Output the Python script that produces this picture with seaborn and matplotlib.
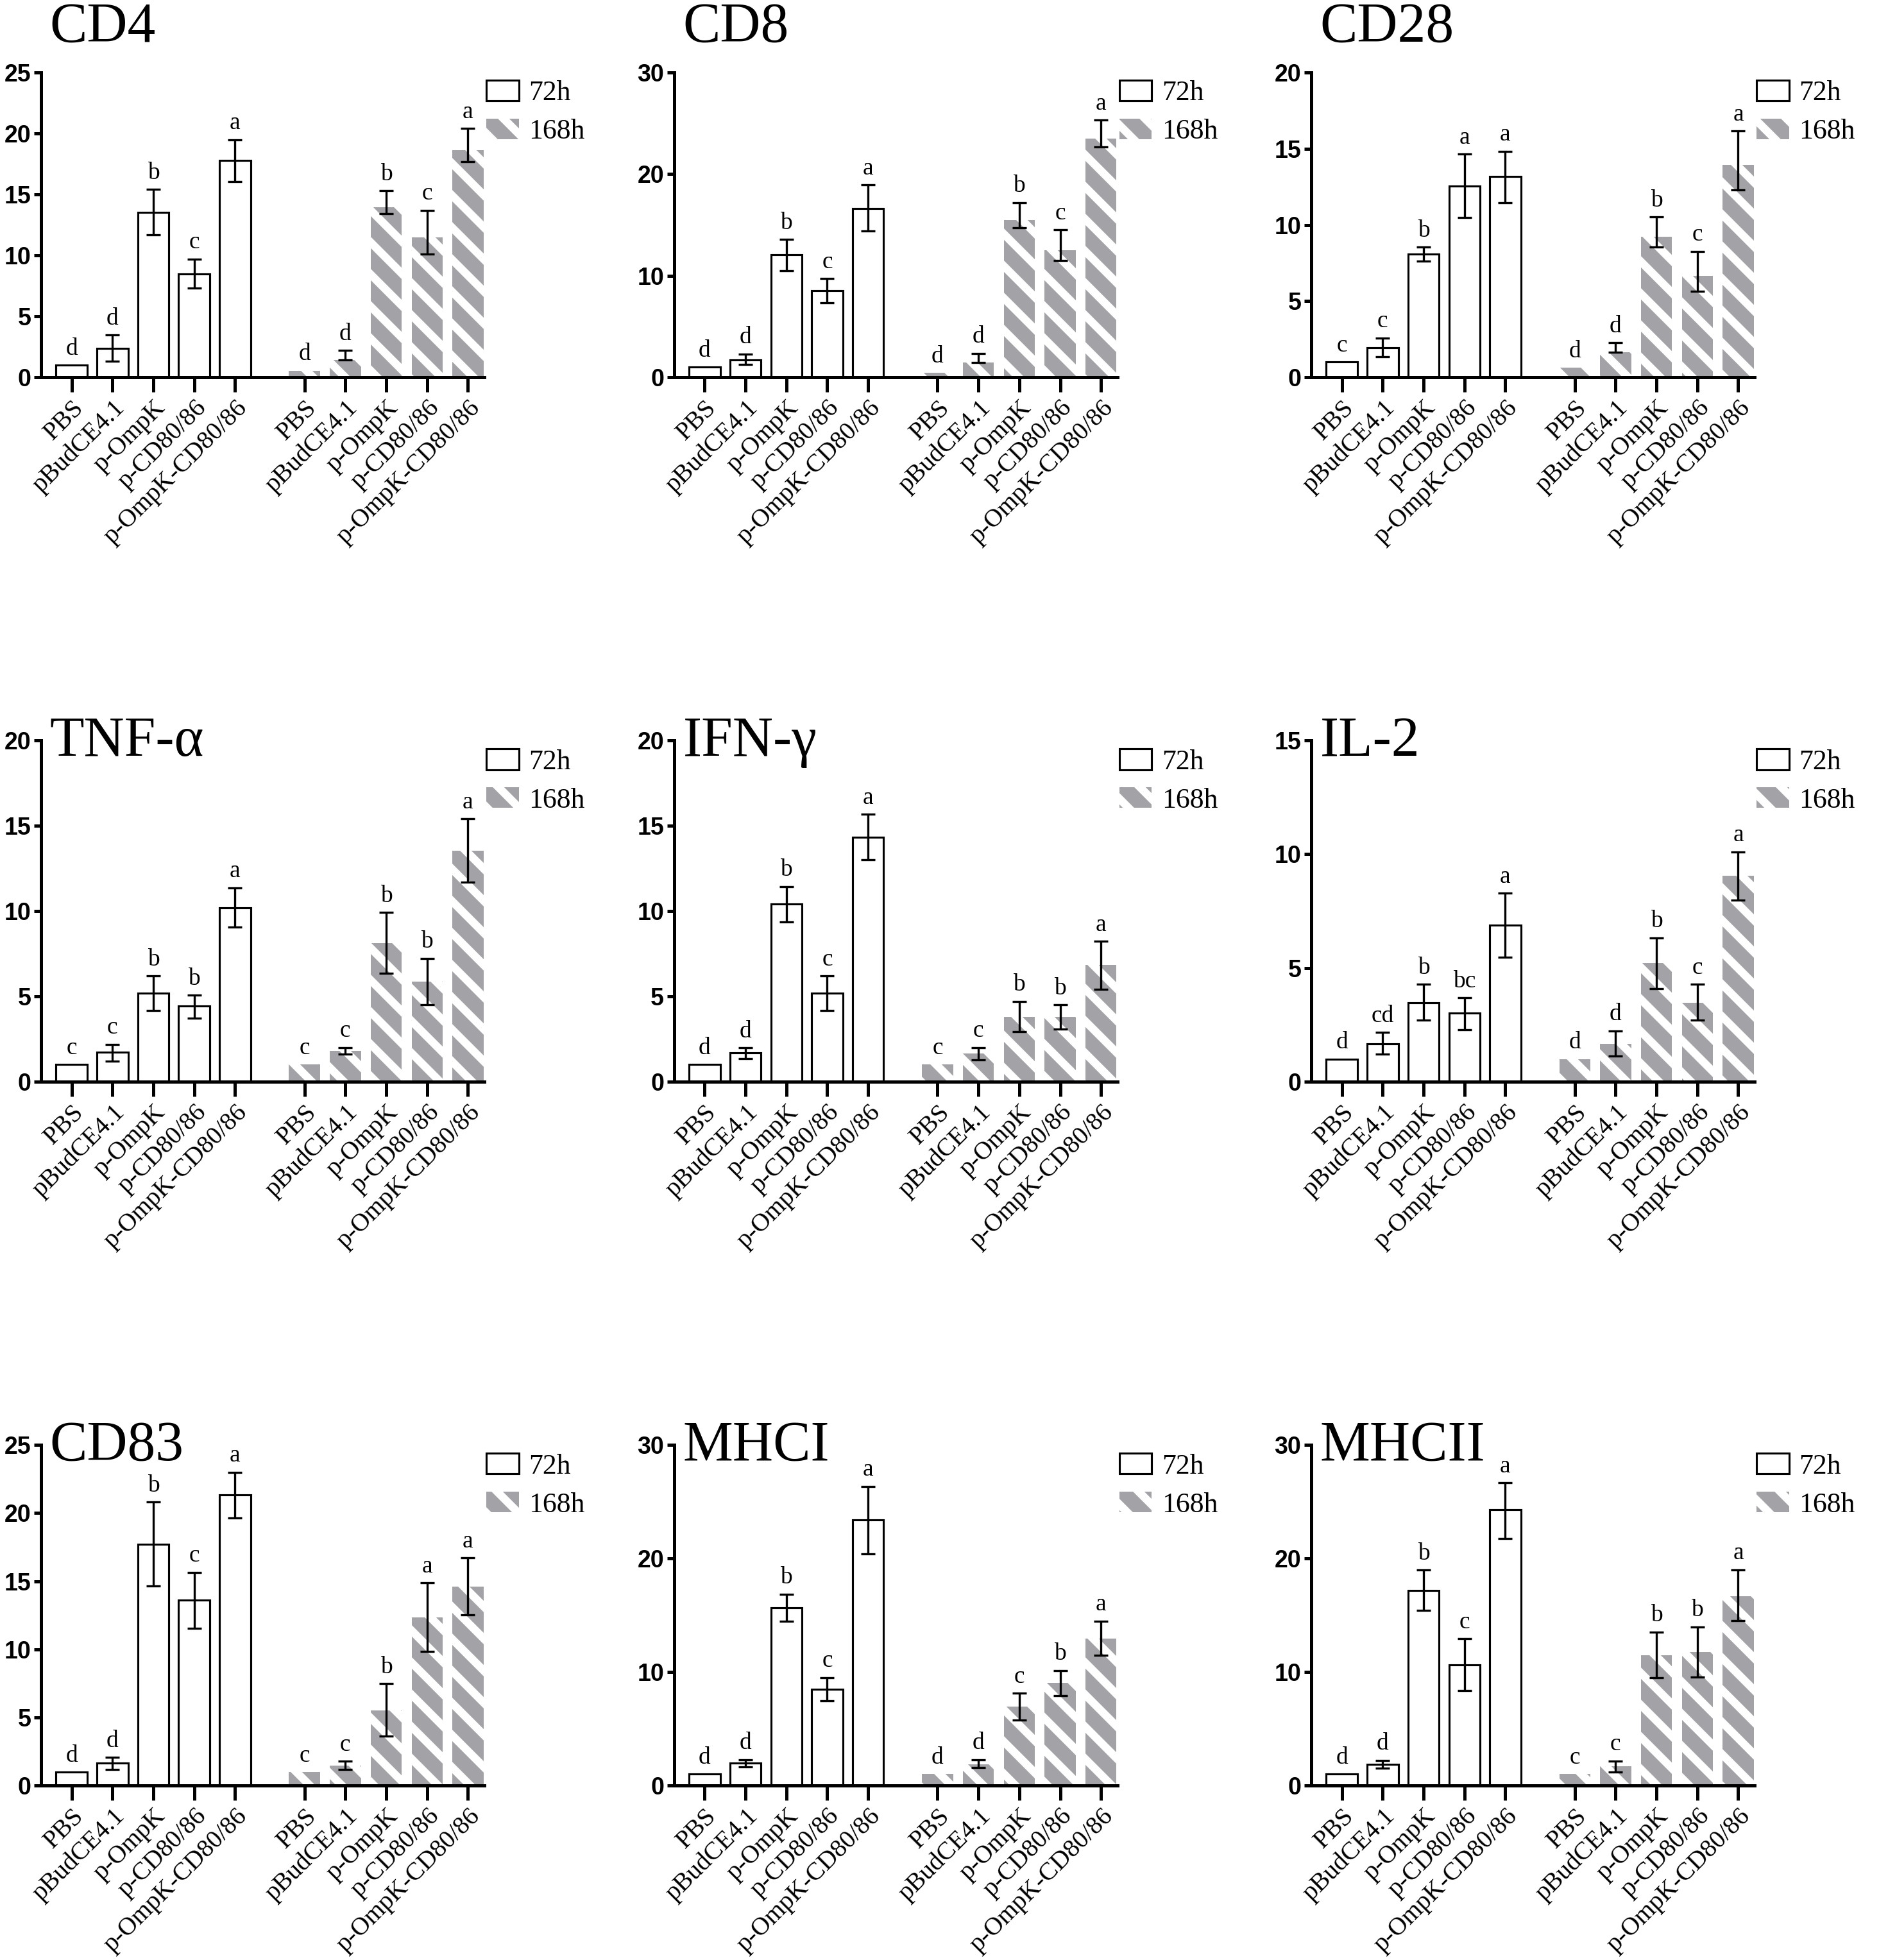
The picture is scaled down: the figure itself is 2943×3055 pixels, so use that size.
import numpy as np
import matplotlib
matplotlib.use('Agg')
import matplotlib.pyplot as plt
from matplotlib.patches import Patch
import seaborn as sns

# ---- data ----
groups = ['PBS', 'pBudCE4.1', 'p-OmpK', 'p-CD80/86', 'p-OmpK-CD80/86']

cd4_72 = [1.0, 2.37, 13.55, 8.5, 17.8]
cd4_72_lo = [None, 1.3, 11.7, 7.3, 16.05]
cd4_72_hi = [None, 3.47, 15.4, 9.7, 19.5]
cd4_168 = [0.55, 1.45, 13.97, 11.5, 18.65]
cd4_168_lo = [None, 1.45, 13.4, 10.1, 17.7]
cd4_168_hi = [None, 2.2, 15.3, 13.7, 20.4]
cd4_sig_72 = ['d', 'd', 'b', 'c', 'a']
cd4_sig_168 = ['d', 'd', 'b', 'c', 'a']

cd8_72 = [1.0, 1.74, 12.04, 8.5, 16.6]
cd8_72_lo = [None, 1.27, 10.5, 7.34, 14.4]
cd8_72_hi = [None, 2.3, 13.56, 9.73, 18.95]
cd8_168 = [0.45, 1.44, 15.5, 12.5, 23.5]
cd8_168_lo = [None, 1.44, 14.75, 11.5, 22.7]
cd8_168_hi = [None, 2.36, 17.2, 14.5, 25.3]
cd8_sig_72 = ['d', 'd', 'b', 'c', 'a']
cd8_sig_168 = ['d', 'd', 'b', 'c', 'a']

cd28_72 = [1.0, 1.95, 8.07, 12.53, 13.18]
cd28_72_lo = [None, 1.36, 7.64, 10.47, 11.46]
cd28_72_hi = [None, 2.58, 8.54, 14.66, 14.84]
cd28_168 = [0.62, 1.65, 9.22, 6.66, 13.96]
cd28_168_lo = [None, 1.65, 8.55, 5.66, 12.31]
cd28_168_hi = [None, 2.28, 10.52, 8.27, 16.17]
cd28_sig_72 = ['c', 'c', 'b', 'a', 'a']
cd28_sig_168 = ['d', 'd', 'b', 'c', 'a']

tnf_72 = [1.0, 1.73, 5.21, 4.43, 10.2]
tnf_72_lo = [None, 1.22, 4.17, 3.74, 9.06]
tnf_72_hi = [None, 2.2, 6.19, 5.08, 11.37]
tnf_168 = [1.0, 1.8, 8.13, 5.86, 13.53]
tnf_168_lo = [None, 1.61, 6.36, 4.53, 11.68]
tnf_168_hi = [None, 2.01, 9.93, 7.24, 15.42]
tnf_sig_72 = ['c', 'c', 'b', 'b', 'a']
tnf_sig_168 = ['c', 'c', 'b', 'b', 'a']

ifn_72 = [1.0, 1.68, 10.43, 5.21, 14.32]
ifn_72_lo = [None, 1.34, 9.38, 4.17, 13.02]
ifn_72_hi = [None, 1.99, 11.44, 6.19, 15.68]
ifn_168 = [1.0, 1.65, 3.81, 3.81, 6.83]
ifn_168_lo = [None, 1.29, 2.95, 3.09, 5.42]
ifn_168_hi = [None, 2.01, 4.72, 4.5, 8.24]
ifn_sig_72 = ['d', 'd', 'b', 'c', 'a']
ifn_sig_168 = ['c', 'c', 'b', 'b', 'a']

il2_72 = [1.0, 1.67, 3.47, 3.02, 6.87]
il2_72_lo = [None, 1.21, 2.72, 2.3, 5.47]
il2_72_hi = [None, 2.16, 4.28, 3.69, 8.28]
il2_168 = [1.0, 1.67, 5.21, 3.48, 9.06]
il2_168_lo = [None, 1.13, 4.1, 2.7, 7.98]
il2_168_hi = [None, 2.24, 6.33, 4.28, 10.11]
il2_sig_72 = ['d', 'cd', 'b', 'bc', 'a']
il2_sig_168 = ['d', 'd', 'b', 'c', 'a']

cd83_72 = [1.0, 1.65, 17.72, 13.61, 21.33]
cd83_72_lo = [None, 1.19, 14.67, 11.56, 19.63]
cd83_72_hi = [None, 2.07, 20.81, 15.65, 23.0]
cd83_168 = [1.0, 1.48, 5.5, 12.35, 14.61]
cd83_168_lo = [None, 1.19, 3.65, 9.85, 12.54]
cd83_168_hi = [None, 1.8, 7.48, 14.89, 16.7]
cd83_sig_72 = ['d', 'd', 'b', 'c', 'a']
cd83_sig_168 = ['c', 'c', 'b', 'a', 'a']

mhc1_72 = [1.0, 1.96, 15.63, 8.46, 23.38]
mhc1_72_lo = [None, 1.63, 14.48, 7.46, 20.42]
mhc1_72_hi = [None, 2.29, 16.86, 9.51, 26.35]
mhc1_168 = [1.0, 1.89, 6.97, 9.02, 12.92]
mhc1_168_lo = [None, 1.6, 5.79, 7.91, 11.47]
mhc1_168_hi = [None, 2.29, 8.13, 10.13, 14.48]
mhc1_sig_72 = ['d', 'd', 'b', 'c', 'a']
mhc1_sig_168 = ['d', 'd', 'c', 'b', 'a']

mhc2_72 = [1.0, 1.85, 17.19, 10.65, 24.28]
mhc2_72_lo = [None, 1.51, 15.41, 8.35, 21.76]
mhc2_72_hi = [None, 2.23, 18.98, 12.92, 26.68]
mhc2_168 = [1.0, 1.71, 11.47, 11.76, 16.7]
mhc2_168_lo = [None, 1.22, 9.51, 9.58, 14.54]
mhc2_168_hi = [None, 2.18, 13.52, 13.99, 19.0]
mhc2_sig_72 = ['d', 'd', 'b', 'c', 'a']
mhc2_sig_168 = ['c', 'c', 'b', 'b', 'a']

titles = ['CD4', 'CD8', 'CD28', 'TNF-α', 'IFN-γ', 'IL-2', 'CD83', 'MHCI', 'MHCII']
y_max = [25, 30, 20, 20, 20, 15, 25, 30, 30]
y_step = [5, 10, 5, 5, 5, 5, 5, 10, 10]

panels = [
    (cd4_72, cd4_72_lo, cd4_72_hi, cd4_sig_72, cd4_168, cd4_168_lo, cd4_168_hi, cd4_sig_168),
    (cd8_72, cd8_72_lo, cd8_72_hi, cd8_sig_72, cd8_168, cd8_168_lo, cd8_168_hi, cd8_sig_168),
    (cd28_72, cd28_72_lo, cd28_72_hi, cd28_sig_72, cd28_168, cd28_168_lo, cd28_168_hi, cd28_sig_168),
    (tnf_72, tnf_72_lo, tnf_72_hi, tnf_sig_72, tnf_168, tnf_168_lo, tnf_168_hi, tnf_sig_168),
    (ifn_72, ifn_72_lo, ifn_72_hi, ifn_sig_72, ifn_168, ifn_168_lo, ifn_168_hi, ifn_sig_168),
    (il2_72, il2_72_lo, il2_72_hi, il2_sig_72, il2_168, il2_168_lo, il2_168_hi, il2_sig_168),
    (cd83_72, cd83_72_lo, cd83_72_hi, cd83_sig_72, cd83_168, cd83_168_lo, cd83_168_hi, cd83_sig_168),
    (mhc1_72, mhc1_72_lo, mhc1_72_hi, mhc1_sig_72, mhc1_168, mhc1_168_lo, mhc1_168_hi, mhc1_sig_168),
    (mhc2_72, mhc2_72_lo, mhc2_72_hi, mhc2_sig_72, mhc2_168, mhc2_168_lo, mhc2_168_hi, mhc2_sig_168),
]

# ---- style ----
sns.set_style('ticks')
plt.rcParams['font.family'] = ['Liberation Serif', 'DejaVu Serif']
plt.rcParams['hatch.linewidth'] = 6.0
plt.rcParams['axes.linewidth'] = 2.4
for key in ['text.color', 'axes.labelcolor', 'xtick.color', 'ytick.color', 'axes.edgecolor']:
    plt.rcParams[key] = 'black'

GRAY = '#a2a2a7'
HATCH = '\\'
SANS = ['Liberation Sans Narrow', 'Liberation Sans', 'DejaVu Sans']
pos_72 = np.arange(5)
pos_168 = np.arange(5) + 5.7

DPI = 150
fig = plt.figure(figsize=(2943 / DPI, 3055 / DPI), dpi=DPI)

lefts = [0.0217, 0.357, 0.6945]
width = 0.2348
rows = [(0.8075, 0.1555), (0.4481, 0.1741), (0.089, 0.1738)]
title_y = [1.103, 0.955, 0.955]


def draw_errs(ax, pos, mean, lo, hi, letters):
    keep = [i for i in range(len(mean)) if lo[i] is not None]
    x = pos[keep]
    m = np.array(mean)[keep]
    down = np.clip(m - np.array([lo[i] for i in keep]), 0, None)
    up = np.clip(np.array([hi[i] for i in keep]) - m, 0, None)
    ax.errorbar(x, m, yerr=[down, up], fmt='none', ecolor='black', elinewidth=1.6,
                capsize=5.5, capthick=1.6, clip_on=False, zorder=4)
    for i, letter in enumerate(letters):
        top = hi[i] if hi[i] is not None else mean[i]
        ax.annotate(letter, (pos[i], top), xytext=(0, 4), textcoords='offset points',
                    ha='center', va='bottom', fontsize=18, annotation_clip=False)


for k, (name, panel) in enumerate(zip(titles, panels)):
    m72, lo72, hi72, s72, m168, lo168, hi168, s168 = panel
    r, c = divmod(k, 3)
    bottom, height = rows[r]
    ax = fig.add_axes([lefts[c], bottom, width, height])

    sns.barplot(x=pos_72, y=m72, native_scale=True, orient='x', width=0.76,
                color='white', edgecolor='black', linewidth=1.5, saturation=1,
                errorbar=None, ax=ax)
    sns.barplot(x=pos_168, y=m168, native_scale=True, orient='x', width=0.76,
                color=GRAY, edgecolor='white', linewidth=0, hatch=HATCH,
                saturation=1, errorbar=None, ax=ax)

    draw_errs(ax, pos_72, m72, lo72, hi72, s72)
    draw_errs(ax, pos_168, m168, lo168, hi168, s168)

    ax.set_xlim(-0.75, 10.1)
    ax.set_ylim(0, y_max[k])
    ax.set_yticks(np.arange(0, y_max[k] + 0.1, y_step[k]))
    ax.set_xticks(np.r_[pos_72, pos_168])
    ax.set_xticklabels(groups + groups, rotation=45, ha='right', va='top',
                       rotation_mode='anchor', fontsize=19)
    ax.set_xlabel('')
    ax.set_ylabel('')
    sns.despine(ax=ax)
    ax.tick_params(axis='x', length=11, width=2.4, pad=3)
    ax.tick_params(axis='y', length=5.5, width=2.4, pad=2, labelsize=18)
    for lbl in ax.get_yticklabels():
        lbl.set_fontfamily(SANS)
        lbl.set_fontweight('bold')

    ax.text(0.02, title_y[r], name, transform=ax.transAxes, fontsize=42,
            ha='left', va='baseline')

    handles = [Patch(facecolor='white', edgecolor='black', linewidth=1.5, label='72h'),
               Patch(facecolor=GRAY, edgecolor='white', linewidth=0, hatch=HATCH, label='168h')]
    ax.legend(handles=handles, loc='upper left', bbox_to_anchor=(1.005, 0.975),
              frameon=False, fontsize=21, handlelength=1.15, handleheight=0.75,
              handletextpad=0.35, labelspacing=0.45, borderpad=0, borderaxespad=0)

fig.savefig('out.png', dpi=DPI, facecolor='white')
